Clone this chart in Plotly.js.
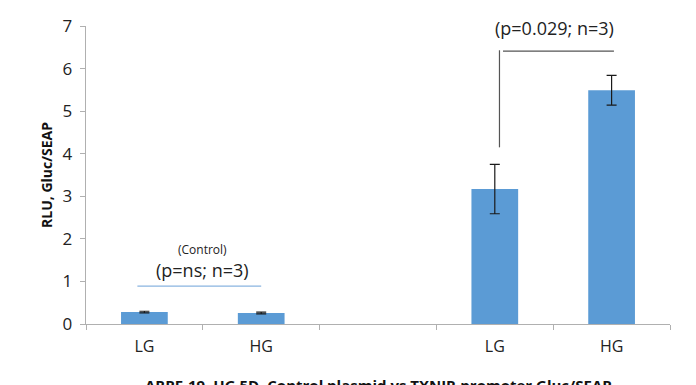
<!DOCTYPE html>
<html><head><meta charset="utf-8">
<script src="https://cdn.plot.ly/plotly-3.0.1.min.js"></script>
<style>html,body{margin:0;padding:0;background:#fff;}#chart{width:696px;height:385px;}</style>
</head><body><div id="chart"></div>
<script>
const categories = ["LG1", "HG1", "gap", "LG2", "HG2"];
const tickLabels = ["LG", "HG", "", "LG", "HG"];
const values = [0.28, 0.26, null, 3.17, 5.49];
const errors = [0.02, 0.02, null, 0.58, 0.35];
const xTitle = "ARPE-19, HG 5D, Control plasmid vs TXNIP-promoter Gluc/SEAP";
const yTitle = "RLU, Gluc/SEAP";
const controlLabel = "(Control)";
const leftStat = "(p=ns; n=3)";
const rightStat = "(p=0.029; n=3)";

const font = "Open Sans, Noto Sans, sans-serif";

const data = [{
  type: "bar",
  x: categories,
  y: values,
  width: 0.4,
  marker: {color: "#5b9bd5"},
  error_y: {type: "data", array: errors, visible: true, color: "#1a1a1a", thickness: 1.2, width: 5},
  hoverinfo: "none"
}];

const layout = {
  width: 696, height: 385,
  margin: {l: 86, r: 26, t: 26, b: 61},
  paper_bgcolor: "#fff", plot_bgcolor: "#fff",
  showlegend: false,
  font: {family: font, color: "#222"},
  xaxis: {
    type: "category",
    categoryorder: "array", categoryarray: categories,
    tickmode: "array", tickvals: categories, ticktext: tickLabels,
    tickson: "boundaries",
    ticks: "outside", ticklen: 5, tickcolor: "#b0b0b0",
    ticklabelstandoff: 8,
    showline: true, linecolor: "#b0b0b0", linewidth: 1,
    showgrid: false, zeroline: false,
    tickfont: {size: 16, family: font, color: "#222"},
    automargin: false,
    range: [-0.5, 4.5]
  },
  yaxis: {
    range: [0, 7], dtick: 1,
    ticks: "outside", ticklen: 5, tickcolor: "#b0b0b0",
    ticksuffix: " ",
    showline: true, linecolor: "#b0b0b0", linewidth: 1,
    showgrid: false, zeroline: false,
    tickfont: {size: 17, family: font, color: "#222"},
    title: {text: yTitle, font: {size: 14, family: font, color: "#111", weight: "bold"}, standoff: 6},
    automargin: false
  },
  annotations: [
    {x: 0.5, y: 1.76, xref: "x", yref: "y", text: controlLabel, showarrow: false, font: {size: 12, family: font, color: "#222"}},
    {x: 0.5, y: 1.27, xref: "x", yref: "y", text: leftStat, showarrow: false, font: {size: 18, family: font, color: "#222"}},
    {x: 3.51, y: 6.95, xref: "x", yref: "y", text: rightStat, showarrow: false, font: {size: 18, family: font, color: "#222"}},
    {x: 0.5, y: -0.165, xref: "paper", yref: "paper", yanchor: "top", text: "<b>" + xTitle + "</b>", showarrow: false, font: {size: 15, family: font, color: "#111"}}
  ],
  shapes: [
    {type: "line", xref: "x", yref: "y", x0: -0.06, x1: 1.0, y0: 0.89, y1: 0.89, line: {color: "#8ab4e0", width: 1.2}},
    {type: "line", xref: "x", yref: "y", x0: 3.04, x1: 3.04, y0: 4.15, y1: 6.43, line: {color: "#555", width: 1.2}},
    {type: "line", xref: "x", yref: "y", x0: 3.07, x1: 4.02, y0: 6.41, y1: 6.41, line: {color: "#555", width: 1.2}}
  ]
};

Plotly.newPlot("chart", data, layout, {displayModeBar: false, staticPlot: true});
</script></body></html>
